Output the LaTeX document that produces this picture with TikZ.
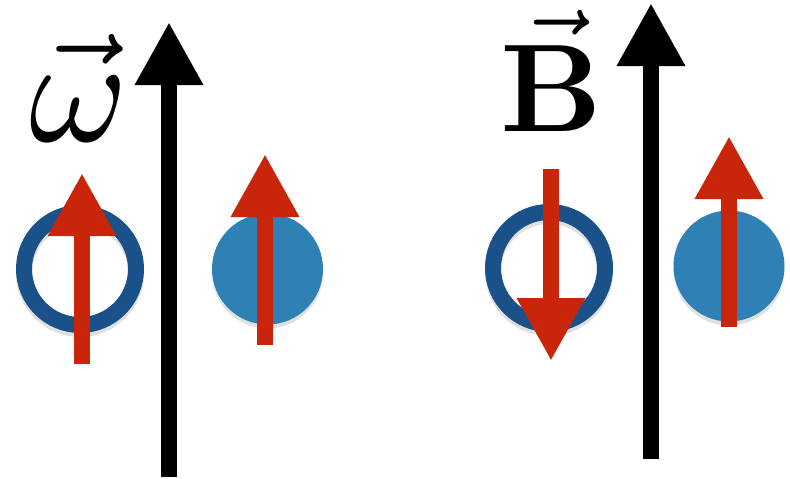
\documentclass[tikz,border=0pt]{standalone}
\usetikzlibrary{arrows.meta}
\definecolor{ringblue}{HTML}{1A5189}
\definecolor{diskblue}{HTML}{2E80B5}
\definecolor{spinred}{HTML}{C8250A}
\tikzset{
  field/.style={line width=16pt, black, -{Triangle[length=63pt,width=64pt]}},
  spinarrow/.style={line width=16pt, spinred, -{Triangle[length=63pt,width=64pt]}},
  ring/.style={draw=ringblue, line width=16pt, circle, minimum size=112pt, inner sep=0pt},
  disk/.style={fill=diskblue, circle, minimum size=111pt, inner sep=0pt},
  ringshade/.style={draw=black, draw opacity=0.12, line width=16pt, circle, minimum size=112pt, inner sep=0pt},
  diskshade/.style={fill=black, fill opacity=0.12, circle, minimum size=111pt, inner sep=0pt},
}
\begin{document}
\begin{tikzpicture}[x=1pt,y=-1pt]
\useasboundingbox (0,0) rectangle (790,479);
% shadows
\node[ringshade] at (80,273) {};
\node[diskshade] at (267.5,273) {};
\node[ringshade] at (549,272) {};
\node[diskshade] at (729,270) {};
% particles
\node[ring] (r1) at (80,269) {};
\node[disk] (d1) at (267.5,269) {};
\node[ring] (r2) at (549,268) {};
\node[disk] (d2) at (729,266) {};
% field arrows
\coordinate (w0) at (169,477); \coordinate (w1) at (169,22);
\coordinate (b0) at (651,459); \coordinate (b1) at (651,3);
\draw[field] (w0) -- (w1);
\draw[field] (b0) -- (b1);
% spin arrows
\coordinate (s1a) at (82,364); \coordinate (s1b) at (82,173);
\coordinate (s2a) at (265,345); \coordinate (s2b) at (265,154);
\coordinate (s3a) at (551,169); \coordinate (s3b) at (551,361);
\coordinate (s4a) at (729,327); \coordinate (s4b) at (729,136);
\draw[spinarrow] (s1a) -- (s1b);
\draw[spinarrow] (s2a) -- (s2b);
\draw[spinarrow] (s3a) -- (s3b);
\draw[spinarrow] (s4a) -- (s4b);
% labels
\node[anchor=base, inner sep=0pt, scale=15] (lw) at (79,141) {$\vec{\omega}$};
\node[anchor=base, inner sep=0pt, scale=12.5] (lb) at (552,131) {$\vec{\mathbf{B}}$};
\end{tikzpicture}
\end{document}
